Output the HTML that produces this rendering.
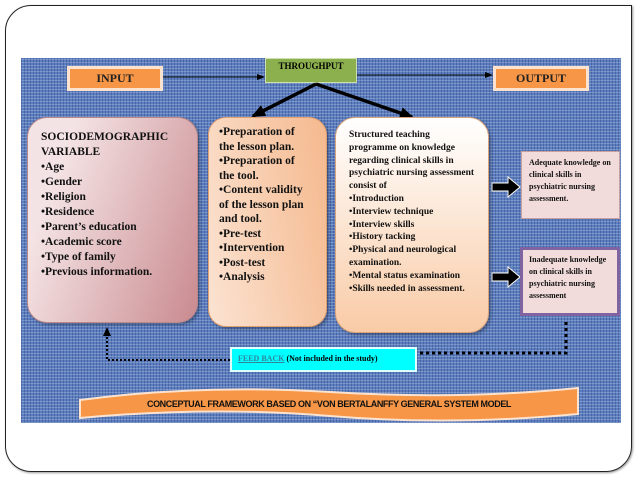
<!DOCTYPE html>
<html><head><style>
body{margin:0;width:638px;height:479px;background:#fff;position:relative;overflow:hidden;font-family:"Liberation Serif",serif;}
.a{position:absolute;box-sizing:border-box}
.frame{left:5px;top:5px;width:627px;height:467px;border:1.5px solid #222;border-radius:26px 0 26px 26px;box-shadow:1px 1px 2px #999}
.bg{left:21px;top:58px;width:600px;height:365px;background-color:#5d7fc0;
background-image:repeating-linear-gradient(0deg,rgba(255,255,255,.2) 0 1px,transparent 1px 3px),repeating-linear-gradient(90deg,rgba(20,40,100,.3) 0 1px,transparent 1px 3px);}
.lab{background:#f79646;border:3px solid #fbe3d0;font-weight:bold;font-size:12px;text-align:center;line-height:18px;color:#222}
.t{font-weight:bold;color:#111}
ul{margin:0;padding:0;list-style:none}
</style></head><body>
<div class="a frame"></div>
<div class="a bg"></div>
<div class="a lab" style="left:67px;top:66px;width:96px;height:25px">INPUT</div>
<div class="a lab" style="left:493px;top:66px;width:96px;height:25px">OUTPUT</div>
<div class="a" style="left:265px;top:58px;width:92px;height:25px;background:#8db04e;border:1px solid #cfe0b0;font-size:9px;font-weight:bold;text-align:center;line-height:14px">THROUGHPUT</div>
<svg class="a" style="left:0;top:0" width="638" height="479">
<defs><marker id="m" markerWidth="8" markerHeight="8" refX="7" refY="4" orient="auto" markerUnits="userSpaceOnUse"><path d="M0,1 L8,4 L0,7z" fill="#000"/></marker>
<marker id="M" markerWidth="14" markerHeight="12" refX="12" refY="6" orient="auto" markerUnits="userSpaceOnUse"><path d="M0,0 L14,6 L0,12z" fill="#000"/></marker></defs>
<line x1="163" y1="77" x2="264" y2="77" stroke="#000" stroke-width="1" marker-end="url(#m)"/>
<line x1="357" y1="75" x2="492" y2="75" stroke="#000" stroke-width="1" marker-end="url(#m)"/>
<line x1="316" y1="84" x2="253" y2="116" stroke="#000" stroke-width="3.5" marker-end="url(#M)"/>
<line x1="316" y1="84" x2="412" y2="117" stroke="#000" stroke-width="3.5" marker-end="url(#M)"/>
<path d="M492,183 h16 v-6 l12,10 l-12,10 v-6 h-16z" fill="#000" stroke="#fff" stroke-width="1"/>
<path d="M492,273 h16 v-6 l12,10 l-12,10 v-6 h-16z" fill="#000" stroke="#fff" stroke-width="1"/>
<polyline points="566,322 566,353 418,353" fill="none" stroke="#000" stroke-width="3" stroke-dasharray="3,3"/>
<polyline points="230,360 107,360 107,334" fill="none" stroke="#000" stroke-width="2" stroke-dasharray="2,2"/>
<path d="M103,336 L107,327 L111,336z" fill="#000"/>
<path d="M80,400 Q200,384 330,392 T578,388 L578,414 Q450,426 330,416 T80,418z" fill="#f79646" stroke="#fbe3d0" stroke-width="2"/>
<text x="329" y="407" text-anchor="middle" font-family="Liberation Sans" font-weight="bold" font-size="9" fill="#111" letter-spacing="-0.4">CONCEPTUAL FRAMEWORK BASED ON “VON BERTALANFFY GENERAL SYSTEM MODEL</text>
</svg>
<div class="a t" style="left:27px;top:117px;width:171px;height:206px;border-radius:20px;background:linear-gradient(110deg,#f4e3e4 20%,#c98a8f);border:1px solid #b88;padding:12px 0 0 13px;font-size:11.5px;line-height:15px;box-shadow:2px 2px 3px rgba(0,0,0,.3)">SOCIODEMOGRAPHIC<br>VARIABLE<ul><li>•Age</li><li>•Gender</li><li>•Religion</li><li>•Residence</li><li>•Parent’s education</li><li>•Academic score</li><li>•Type of family</li><li>•Previous information.</li></ul></div>
<div class="a t" style="left:208px;top:117px;width:119px;height:210px;border-radius:18px;background:linear-gradient(80deg,#fbe3d2,#f5b98e);border:1px solid #e0a070;padding:7px 10px 0 10px;font-size:11.5px;line-height:14.5px;box-shadow:2px 2px 3px rgba(0,0,0,.3)"><div style="width:92px">•Preparation of the lesson plan.<br>•Preparation of the tool.<br>•Content validity of the lesson plan and tool.<br>•Pre-test<br>•Intervention<br>•Post-test<br>•Analysis</div></div>
<div class="a t" style="left:335px;top:117px;width:154px;height:216px;border-radius:20px;background:linear-gradient(180deg,#fff,#f9cba6);border:1px solid #d9a27a;padding:11px 0 0 13px;font-size:9.5px;line-height:12.8px;box-shadow:2px 2px 3px rgba(0,0,0,.3)"><div style="width:128px">Structured teaching programme on knowledge regarding clinical skills in psychiatric nursing assessment consist of<br>•Introduction<br>•Interview technique<br>•Interview skills<br>•History tacking<br>•Physical and neurological examination.<br>•Mental status examination<br>•Skills needed in assessment.</div></div>
<div class="a t" style="left:521px;top:151px;width:99px;height:68px;background:#f2dcdb;border:1px solid #c9a0a0;padding:5px 0 0 7px;font-size:8px;line-height:12px"><div style="width:82px">Adequate knowledge on clinical skills in psychiatric nursing assessment.</div></div>
<div class="a t" style="left:520px;top:247px;width:100px;height:69px;background:#f2dcdb;border:3px solid #8064a2;padding:4px 0 0 6px;font-size:8px;line-height:12px"><div style="width:82px">Inadequate knowledge on clinical skills in psychiatric nursing assessment</div></div>
<div class="a" style="left:230px;top:347px;width:187px;height:25px;background:#00ffff;border:2px solid #dff;font-size:8px;font-weight:bold;line-height:20px;padding-left:6px"><span style="color:#31849b;text-decoration:underline">FEED BACK</span> (Not included in the study)</div>
</body></html>
